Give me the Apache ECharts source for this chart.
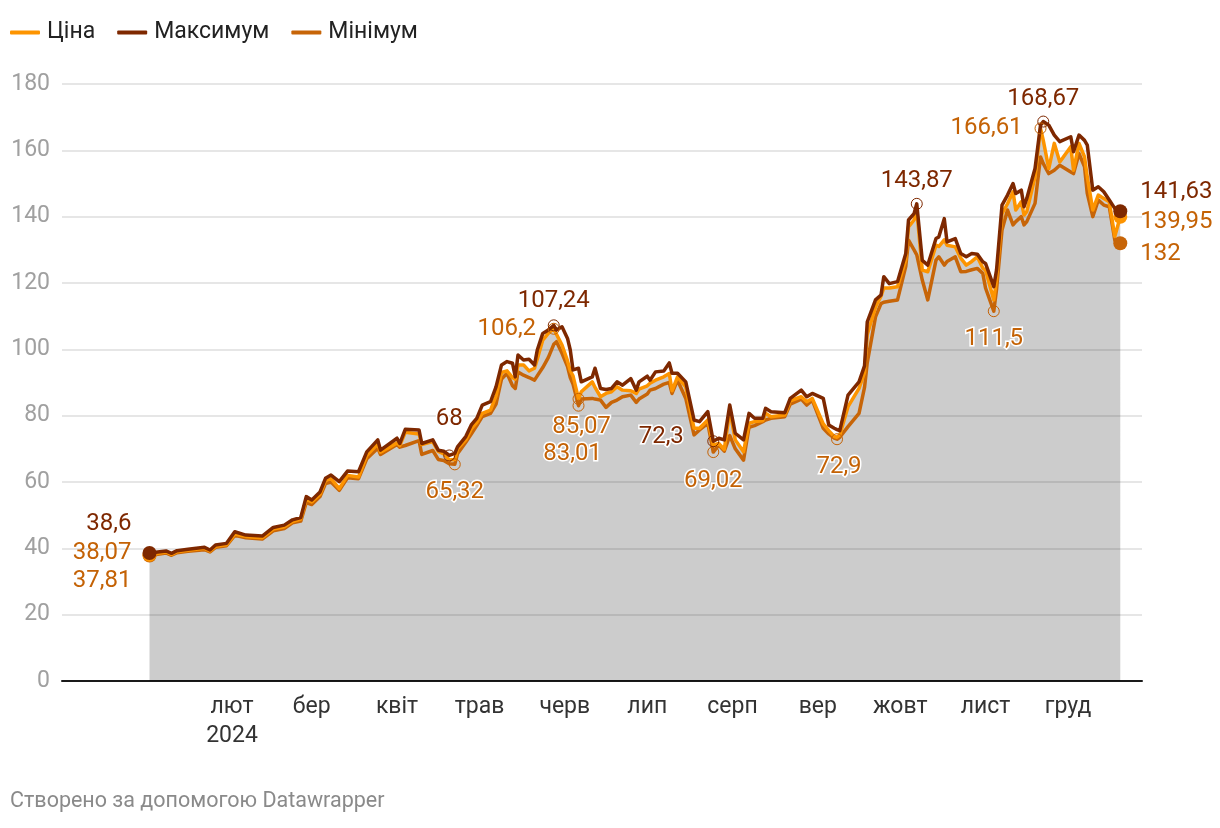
<!DOCTYPE html>
<html>
<head>
<meta charset="utf-8">
<script src="https://cdn.jsdelivr.net/npm/echarts@6/dist/echarts.min.js"></script>
<style>
  html, body { margin: 0; padding: 0; background: #fff; }
  #chart { width: 1220px; height: 828px; }
</style>
</head>
<body>
<div id="chart"></div>
<script>
// ---------------- DATA ----------------
const dates = [
  '2024-01-02','2024-01-08','2024-01-10','2024-01-12','2024-01-16','2024-01-22','2024-01-24','2024-01-26','2024-01-30',
  '2024-02-02','2024-02-06','2024-02-12','2024-02-16','2024-02-20','2024-02-23','2024-02-26','2024-02-28',
  '2024-03-01','2024-03-04','2024-03-06','2024-03-08','2024-03-11','2024-03-14','2024-03-18','2024-03-21','2024-03-25','2024-03-26',
  '2024-04-01','2024-04-02','2024-04-04','2024-04-09','2024-04-10','2024-04-14','2024-04-16','2024-04-18','2024-04-20','2024-04-22','2024-04-23','2024-04-26','2024-04-28','2024-04-30',
  '2024-05-02','2024-05-05','2024-05-07','2024-05-09','2024-05-11','2024-05-13','2024-05-14','2024-05-15','2024-05-17','2024-05-19','2024-05-21','2024-05-22','2024-05-24','2024-05-26','2024-05-28','2024-05-29','2024-05-31',
  '2024-06-02','2024-06-03','2024-06-04','2024-06-06','2024-06-07','2024-06-11','2024-06-12','2024-06-14','2024-06-16','2024-06-18','2024-06-20','2024-06-22','2024-06-25','2024-06-27','2024-06-28',
  '2024-07-01','2024-07-02','2024-07-04','2024-07-07','2024-07-09','2024-07-10','2024-07-12','2024-07-15','2024-07-18','2024-07-20','2024-07-23','2024-07-25','2024-07-27','2024-07-29','2024-07-31',
  '2024-08-02','2024-08-05','2024-08-07','2024-08-09','2024-08-12','2024-08-13','2024-08-15','2024-08-20','2024-08-22','2024-08-26','2024-08-28','2024-08-30',
  '2024-09-03','2024-09-05','2024-09-07','2024-09-08','2024-09-09','2024-09-12','2024-09-16','2024-09-18','2024-09-19','2024-09-22','2024-09-24','2024-09-25','2024-09-27','2024-09-30',
  '2024-10-03','2024-10-04','2024-10-06','2024-10-07','2024-10-09','2024-10-11','2024-10-14','2024-10-15','2024-10-17','2024-10-18','2024-10-21','2024-10-23','2024-10-25','2024-10-27','2024-10-29','2024-10-31',
  '2024-11-01','2024-11-04','2024-11-05','2024-11-07','2024-11-09','2024-11-11','2024-11-12','2024-11-14','2024-11-15','2024-11-16','2024-11-19','2024-11-21','2024-11-22','2024-11-24','2024-11-26','2024-11-28',
  '2024-12-02','2024-12-03','2024-12-05','2024-12-07','2024-12-08','2024-12-10','2024-12-12','2024-12-14','2024-12-16','2024-12-18','2024-12-20'
];
const maxValues = [
  38.6,39.2,38.5,39.3,39.7,40.3,39.5,41.0,41.5,
  45.0,44.0,43.7,46.3,47.0,48.6,49.3,55.6,
  54.6,57.0,61.1,62.1,60.1,63.3,63.1,69.1,72.7,69.6,
  73.2,71.6,75.9,75.7,71.6,72.7,69.6,69.3,68.0,68.6,70.6,73.7,77.2,79.2,
  83.2,84.2,88.7,95.3,96.3,95.8,91.7,98.3,96.8,97.0,95.3,99.8,104.8,105.8,107.24,105.8,106.8,
  103.3,99.8,93.8,94.3,90.2,91.7,94.3,88.2,87.9,88.2,90.2,89.2,91.2,87.7,90.2,
  91.9,90.7,93.2,93.5,95.9,92.8,92.8,90.2,78.7,78.2,81.2,72.3,73.2,72.7,83.2,
  74.7,72.7,80.7,79.2,79.2,82.2,81.2,80.9,85.2,87.7,85.7,86.7,
  85.2,77.2,76.2,75.8,75.5,86.2,90.2,95.0,108.3,114.9,116.4,121.9,119.8,120.4,
  128.9,139.0,140.9,143.87,126.8,125.4,133.4,133.9,139.4,132.4,133.4,128.9,127.9,128.9,128.7,126.4,
  125.9,118.9,123.9,143.5,146.5,150.0,147.0,148.0,143.0,145.5,154.5,167.6,168.67,167.6,164.6,162.6,
  164.1,159.6,164.6,163.0,161.6,148.0,149.0,147.5,145.0,142.5,141.63
];
const priceValues = [
  38.07,38.9,38.2,39.0,39.4,40.0,39.2,40.6,41.1,
  44.3,43.6,43.2,45.8,46.5,48.1,48.8,54.8,
  54.0,56.3,60.5,61.0,58.0,62.0,61.5,68.0,71.5,69.0,
  71.8,71.0,75.0,74.5,71.3,72.2,69.2,68.5,66.6,66.8,70.0,72.7,76.0,78.0,
  80.7,81.7,86.0,93.0,93.5,91.5,91.0,95.3,95.3,93.5,94.3,97.0,102.8,104.8,106.2,104.5,101.3,
  96.5,93.5,92.0,85.07,87.2,90.2,88.5,85.7,86.7,87.2,88.7,87.7,87.5,86.7,88.0,
  89.0,89.8,90.7,91.7,92.7,87.5,91.7,88.7,76.2,76.2,78.7,71.1,71.6,69.8,81.7,
  72.7,69.1,77.7,78.2,78.5,80.7,79.7,80.2,84.5,85.7,84.2,85.2,
  77.5,75.5,73.7,73.5,74.2,82.7,88.2,93.0,104.5,112.8,116.0,118.5,118.5,118.9,
  127.0,136.9,139.0,142.0,123.9,123.4,131.4,131.0,133.0,131.4,130.9,127.5,125.4,126.5,127.9,124.5,
  123.9,114.9,121.0,140.9,143.9,147.5,142.0,144.5,140.5,141.5,152.0,166.61,163.0,154.5,162.1,156.5,
  161.1,154.0,162.1,158.0,152.0,142.0,146.5,145.5,144.5,134.0,139.95
];
const minValues = [
  37.81,38.6,37.9,38.7,39.1,39.6,38.9,40.3,40.8,
  43.9,43.2,42.8,45.3,46.0,47.7,48.2,53.8,
  53.2,55.6,59.5,60.0,57.5,61.3,61.0,67.0,70.2,68.3,
  71.3,70.5,71.0,72.5,68.3,69.5,66.8,66.5,65.5,65.32,68.5,72.0,74.5,77.0,
  79.7,80.7,83.5,91.0,92.8,89.0,88.2,93.2,92.2,91.5,90.7,92.0,94.5,97.5,101.5,102.3,98.8,
  94.8,91.5,89.5,83.01,85.0,85.2,85.0,84.7,82.5,84.0,84.7,85.7,86.2,84.0,85.0,
  86.5,87.7,88.2,89.5,90.0,86.7,90.7,85.2,74.2,75.7,77.7,69.02,71.1,69.3,74.0,
  70.0,66.6,76.5,77.0,78.2,78.7,79.2,79.7,83.5,85.0,83.2,84.7,
  76.2,74.5,73.2,72.9,73.5,76.7,80.7,88.5,96.0,109.8,113.8,114.2,114.5,114.9,
  125.0,132.9,130.0,128.5,120.9,114.9,126.9,127.9,125.4,126.5,127.9,123.4,123.5,124.0,124.4,122.9,
  118.5,111.5,118.0,136.0,142.0,137.5,138.5,140.0,137.5,138.5,144.0,158.0,156.0,153.0,154.0,155.5,
  153.5,153.0,159.0,155.0,147.0,140.0,145.0,143.5,143.0,133.0,132.0
];
const seriesNames = ['Ціна', 'Максимум', 'Мінімум'];
const monthLabels = ['січ','лют','бер','квіт','трав','черв','лип','серп','вер','жовт','лист','груд'];
const tickMonths = [1,2,3,4,5,6,7,8,9,10,11];
const yearLabel = '2024';
const yTicks = { min: 0, max: 180, interval: 20 };
// annotated extremes: [series, date, value]
const annotations = [
  ['max',   '2024-04-20', 68],
  ['min',   '2024-04-22', 65.32],
  ['max',   '2024-05-28', 107.24],
  ['price', '2024-05-28', 106.2],
  ['price', '2024-06-06', 85.07],
  ['min',   '2024-06-06', 83.01],
  ['max',   '2024-07-25', 72.3],
  ['min',   '2024-07-25', 69.02],
  ['min',   '2024-09-08', 72.9],
  ['max',   '2024-10-07', 143.87],
  ['min',   '2024-11-04', 111.5],
  ['max',   '2024-11-22', 168.67],
  ['price', '2024-11-21', 166.61]
];
const footerText = 'Створено за допомогою Datawrapper';

// ---------------- STYLE ----------------
const COLORS = { price: '#fd9400', max: '#7e2800', min: '#c76508' };
const LABEL_COLORS = { price: '#c46205', max: '#7e2800', min: '#c46205' };
const FONT = 'Roboto, "Noto Sans", Arial, sans-serif';
const ANN_SIZE = 24;
const annOffsets = [
  [0,-36],[0,28],[0,-24],[-47,0],[3,28],[-6,48],[-52,-4],[0,29],[2,28],[0,-23],[0,28],[0,-23],[-54,0]
];
const startOffsets = { max: -29, price: -2, min: 25 };
const endOffsets = { max: -19, price: 5, min: 11 };

const fmt = v => String(v).replace('.', ',');
const dayMs = 86400000;
const base = new Date(2024, 0, 1).getTime();
const toTime = s => { const p = s.split('-').map(Number); return new Date(p[0], p[1] - 1, p[2]).getTime(); };

const times = dates.map(toTime);
function seriesData(vals) { return times.map((t, i) => [t, vals[i]]); }
const valsByKey = { price: priceValues, max: maxValues, min: minValues };
const last = dates.length - 1;

function markPoints(key) {
  const items = [];
  annotations.forEach((a, i) => {
    if (a[0] !== key) return;
    items.push({
      coord: [toTime(a[1]), a[2]],
      symbol: 'circle', symbolSize: 11,
      itemStyle: { color: 'rgba(255,255,255,0)', borderColor: LABEL_COLORS[key], borderWidth: 1 },
      label: {
        show: true, position: 'inside', offset: annOffsets[i],
        formatter: fmt(a[2]), color: LABEL_COLORS[key], fontSize: ANN_SIZE, fontFamily: FONT,
        textBorderColor: '#fff', textBorderWidth: 3
      }
    });
  });
  const v = valsByKey[key];
  items.push({
    coord: [times[0], v[0]], symbol: 'circle', symbolSize: 0,
    label: { show: true, position: 'left', distance: 18, offset: [0, startOffsets[key]],
      formatter: fmt(v[0]), color: LABEL_COLORS[key], fontSize: ANN_SIZE, fontFamily: FONT }
  });
  items.push({
    coord: [times[last], v[last]], symbol: 'circle', symbolSize: 0,
    label: { show: true, position: 'right', distance: 20, offset: [0, endOffsets[key]],
      formatter: fmt(v[last]), color: LABEL_COLORS[key], fontSize: ANN_SIZE, fontFamily: FONT }
  });
  return { silent: true, data: items, z: 10 };
}

function lineSeries(name, key, z) {
  return {
    name, type: 'line', data: seriesData(valsByKey[key]), z,
    showSymbol: true, symbol: 'circle',
    symbolSize: (val, p) => (p.dataIndex === 0 || p.dataIndex === last) ? 14 : 0,
    itemStyle: { color: COLORS[key] },
    lineStyle: { color: COLORS[key], width: 3.5, join: 'round' },
    markPoint: markPoints(key),
    emphasis: { disabled: true }
  };
}

const chart = echarts.init(document.getElementById('chart'), null, { renderer: 'canvas' });
chart.setOption({
  animation: false,
  backgroundColor: '#fff',
  textStyle: { fontFamily: FONT },
  title: {
    text: footerText, left: 10, top: 791, padding: 0,
    textStyle: { fontSize: 21.5, fontWeight: 'normal', color: '#8a8a8a', fontFamily: FONT }
  },
  legend: {
    data: seriesNames, left: 5, top: 16, icon: 'roundRect',
    itemWidth: 30, itemHeight: 4, itemGap: 22,
    textStyle: { fontSize: 23, color: '#222', fontFamily: FONT, padding: [0, 0, 0, 2] }
  },
  grid: { left: 62, right: 78, top: 84, bottom: 147, containLabel: false },
  xAxis: {
    type: 'value',
    min: base - 30.82 * dayMs,
    max: base + 361.9 * dayMs,
    axisLine: { show: true, onZero: false, lineStyle: { color: '#1a1a1a', width: 2 } },
    axisTick: { show: false },
    splitLine: { show: false },
    axisLabel: {
      customValues: tickMonths.map(m => new Date(2024, m, 1).getTime()),
      formatter: val => {
        const m = new Date(val).getMonth();
        return m === 1 ? monthLabels[m] + '\n' + yearLabel : monthLabels[m];
      },
      color: '#333', fontSize: 23, fontFamily: FONT, margin: 12, lineHeight: 29
    }
  },
  yAxis: {
    type: 'value', min: yTicks.min, max: yTicks.max, interval: yTicks.interval,
    axisLine: { show: false }, axisTick: { show: false },
    splitLine: { lineStyle: { color: '#e6e6e6', width: 2 } },
    axisLabel: { color: '#a0a0a0', fontSize: 23, fontFamily: FONT, margin: 12 }
  },
  series: [
    {
      name: 'area', type: 'line', data: seriesData(priceValues), z: 1,
      showSymbol: false, symbol: 'none', silent: true,
      lineStyle: { width: 0 },
      areaStyle: { color: 'rgba(0,0,0,0.2)', opacity: 1 },
      emphasis: { disabled: true }
    },
    lineSeries('Мінімум', 'min', 2),
    lineSeries('Ціна', 'price', 3),
    lineSeries('Максимум', 'max', 4)
  ]
});
</script>
</body>
</html>
